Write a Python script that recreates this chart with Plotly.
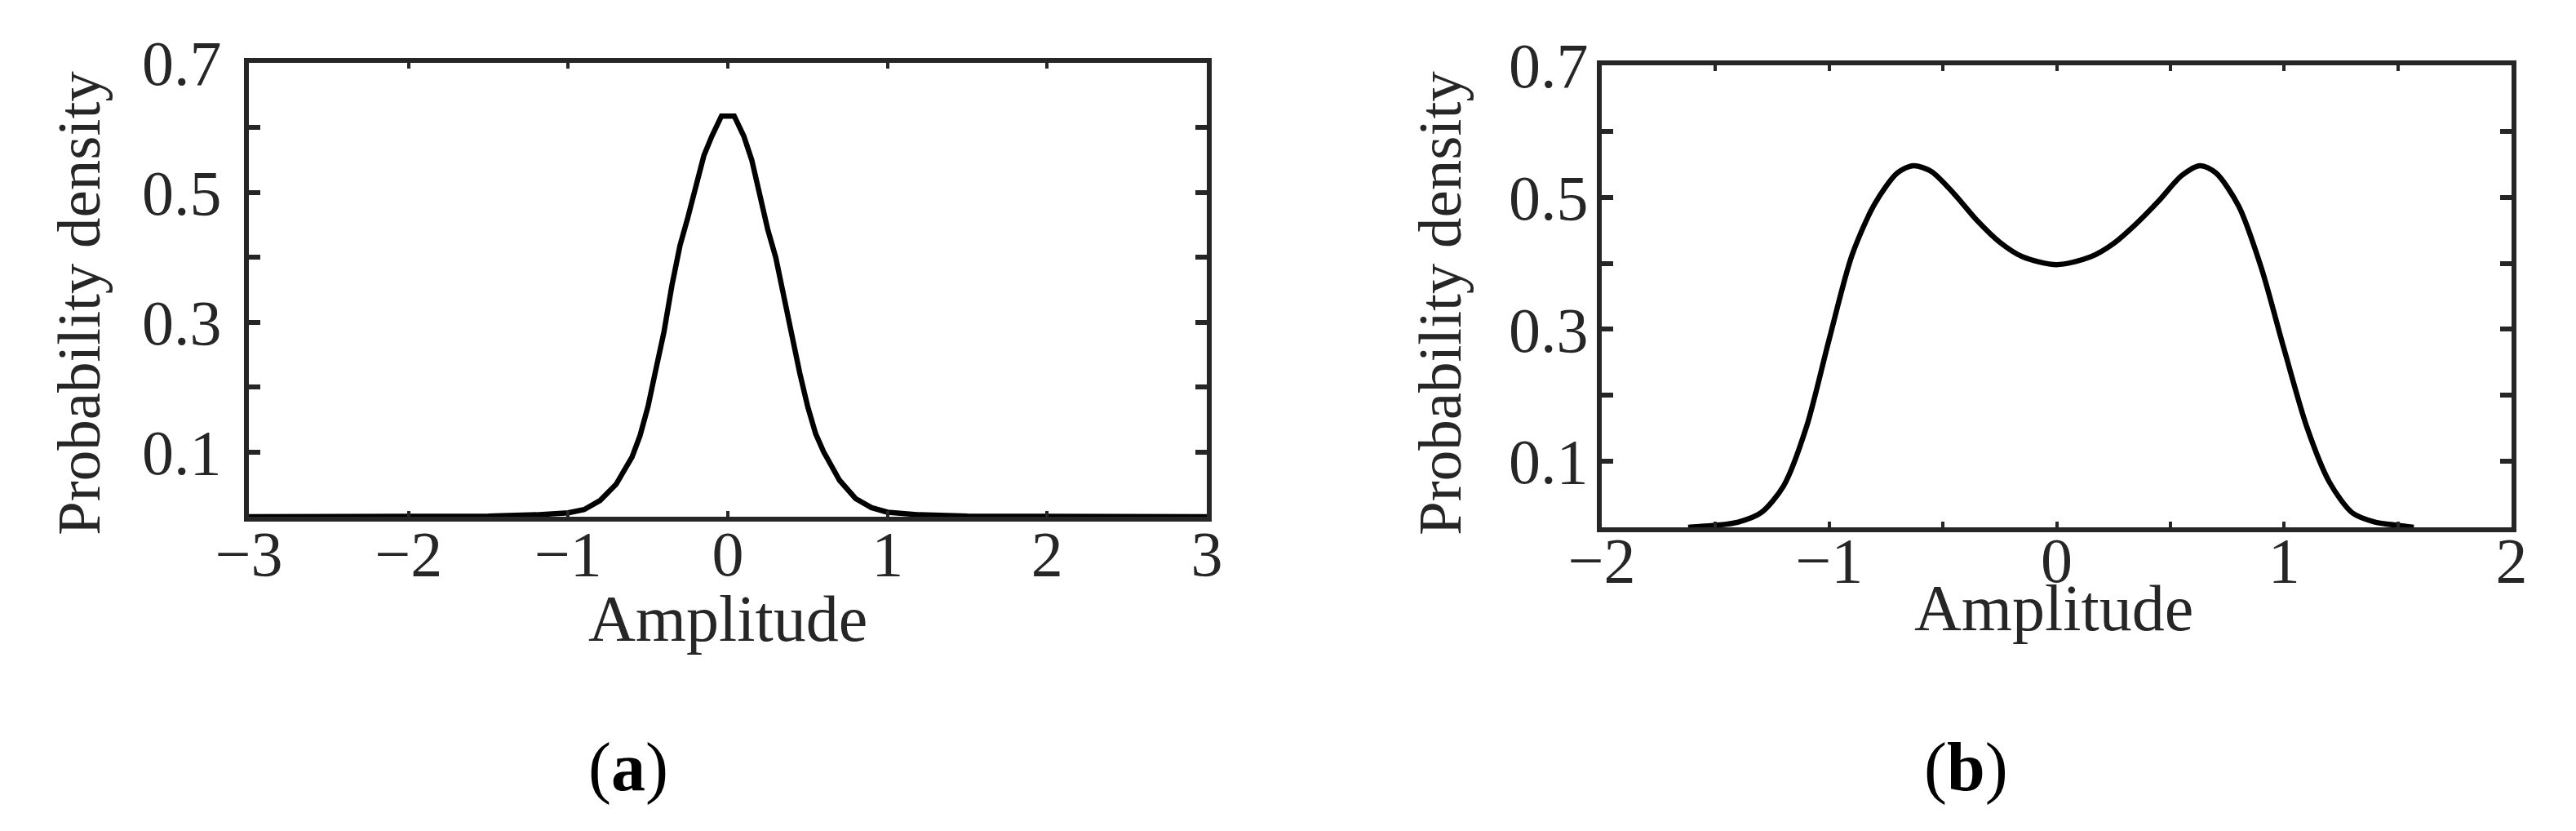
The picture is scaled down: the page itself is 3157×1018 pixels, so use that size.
import plotly.graph_objects as go

# ---------------- data ----------------
amp_a = [-3.0, -2.0, -1.5, -1.2, -1.0, -0.9, -0.8, -0.7, -0.6, -0.55, -0.5, -0.45, -0.4,
         -0.35, -0.3, -0.25, -0.2, -0.15, -0.1, -0.04, 0.04, 0.1, 0.15, 0.2, 0.25, 0.3,
         0.35, 0.4, 0.45, 0.5, 0.55, 0.6, 0.7, 0.8, 0.9, 1.0, 1.2, 1.5, 2.0, 3.0]
pdf_a = [0.0, 0.0, 0.001, 0.003, 0.006, 0.011, 0.025, 0.050, 0.092, 0.125, 0.170, 0.228, 0.285,
         0.357, 0.418, 0.462, 0.510, 0.557, 0.587, 0.618, 0.618, 0.587, 0.550, 0.497, 0.443, 0.400,
         0.340, 0.275, 0.222, 0.170, 0.128, 0.100, 0.056, 0.028, 0.014, 0.007, 0.003, 0.001, 0.0, 0.0]

amp_b = [-1.62, -1.5, -1.4, -1.3, -1.2, -1.1, -1.0, -0.9, -0.8, -0.7, -0.63, -0.55, -0.45,
         -0.35, -0.25, -0.15, 0.0, 0.15, 0.25, 0.35, 0.45, 0.55, 0.63, 0.7, 0.8, 0.9, 1.0,
         1.1, 1.2, 1.3, 1.4, 1.5, 1.57]
pdf_b = [0.0, 0.003, 0.008, 0.022, 0.063, 0.152, 0.285, 0.412, 0.490, 0.537, 0.548, 0.539, 0.505,
         0.465, 0.432, 0.410, 0.398, 0.410, 0.430, 0.460, 0.495, 0.533, 0.548, 0.537, 0.487, 0.393, 0.270,
         0.152, 0.068, 0.022, 0.008, 0.003, 0.0]

y_ticks = [0.1, 0.2, 0.3, 0.4, 0.5, 0.6, 0.7]
y_tick_text = ["0.1", "", "0.3", "", "0.5", "", "0.7"]
xa_ticks = [-3, -2, -1, 0, 1, 2, 3]
xa_tick_text = ["\u22123", "\u22122", "\u22121", "0", "1", "2", "3"]
xb_ticks = [-2, -1.5, -1, -0.5, 0, 0.5, 1, 1.5, 2]
xb_tick_text = ["\u22122", "", "\u22121", "", "0", "", "1", "", "2"]

x_title = "Amplitude"
y_title = "Probability density"
panel_labels = ["(<b>a</b>)", "(<b>b</b>)"]

# ---------------- figure ----------------
W, H = 3157, 1018
OFF = 8  # page body margin
FONT = "Liberation Serif, Times New Roman, serif"
GREY = "#262626"


def px(x):
    return (x - OFF) / W


def py(y):
    return 1 - (y - OFF) / H


fig = go.Figure()
fig.add_trace(go.Scatter(x=amp_a, y=pdf_a, mode="lines", xaxis="x", yaxis="y",
                         line=dict(color="black", width=6.5), showlegend=False))
fig.add_trace(go.Scatter(x=amp_b, y=pdf_b, mode="lines", xaxis="x2", yaxis="y2",
                         line=dict(color="black", width=6.5, shape="spline", smoothing=0.8),
                         showlegend=False))

axis_common = dict(showline=True, linecolor=GREY, linewidth=6, mirror="ticks",
                   ticks="inside", tickcolor=GREY, showgrid=False, zeroline=False,
                   automargin=False,
                   tickfont=dict(family=FONT, size=78, color=GREY))

fig.update_layout(
    width=W, height=H,
    margin=dict(l=0, r=0, t=0, b=0),
    paper_bgcolor="white", plot_bgcolor="white",
    xaxis=dict(domain=[px(305), px(1479)], range=[-3, 3], anchor="y",
               tickvals=xa_ticks, ticktext=xa_tick_text, ticklen=7, tickwidth=4,
               ticklabelstandoff=-28, **axis_common),
    yaxis=dict(domain=[py(633), py(77)], range=[0, 0.7], anchor="x",
               tickvals=y_ticks, ticktext=y_tick_text, ticklen=14, tickwidth=6,
               ticklabelstandoff=12, **axis_common),
    xaxis2=dict(domain=[px(1963), px(3078)], range=[-2, 2], anchor="y2",
                tickvals=xb_ticks, ticktext=xb_tick_text, ticklen=7, tickwidth=4,
                ticklabelstandoff=-33, **axis_common),
    yaxis2=dict(domain=[py(646), py(80)], range=[0, 0.7], anchor="x2",
                tickvals=y_ticks, ticktext=y_tick_text, ticklen=14, tickwidth=6,
                ticklabelstandoff=-5, **axis_common),
)

ann = []
# x-axis titles
ann.append(dict(text=x_title, x=px(892), y=py(758), xref="paper", yref="paper",
                showarrow=False, xanchor="center", yanchor="middle",
                font=dict(family=FONT, size=80, color=GREY)))
ann.append(dict(text=x_title, x=px(2517), y=py(745), xref="paper", yref="paper",
                showarrow=False, xanchor="center", yanchor="middle",
                font=dict(family=FONT, size=80, color=GREY)))
# y-axis titles
ann.append(dict(text=y_title, x=px(96), y=py(372), xref="paper", yref="paper",
                showarrow=False, xanchor="center", yanchor="middle", textangle=-90,
                font=dict(family=FONT, size=75, color=GREY)))
ann.append(dict(text=y_title, x=px(1764), y=py(372), xref="paper", yref="paper",
                showarrow=False, xanchor="center", yanchor="middle", textangle=-90,
                font=dict(family=FONT, size=75, color=GREY)))
# panel labels
ann.append(dict(text=panel_labels[0], x=px(770), y=py(940), xref="paper", yref="paper",
                showarrow=False, xanchor="center", yanchor="middle",
                font=dict(family=FONT, size=84, color="black")))
ann.append(dict(text=panel_labels[1], x=px(2409), y=py(940), xref="paper", yref="paper",
                showarrow=False, xanchor="center", yanchor="middle",
                font=dict(family=FONT, size=84, color="black")))
fig.update_layout(annotations=ann)

fig.write_html("out.html")
